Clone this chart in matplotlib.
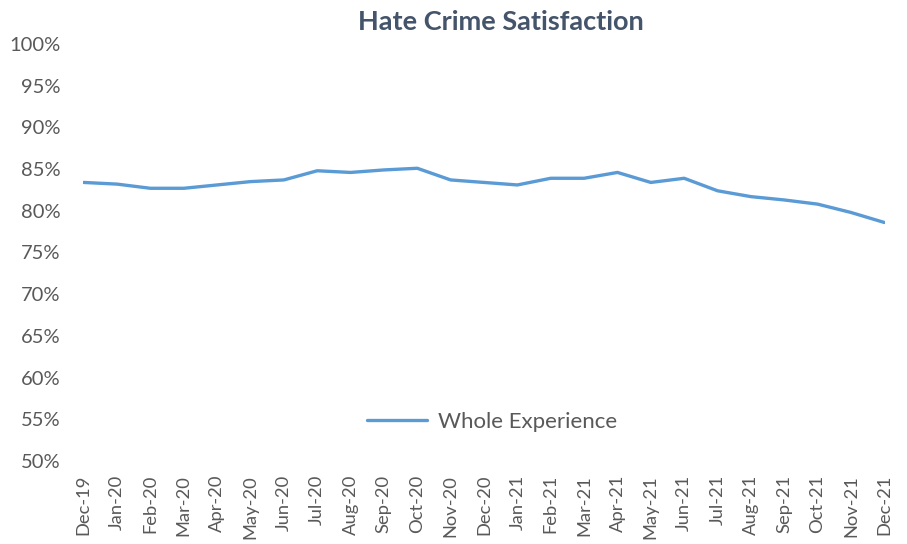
import matplotlib
matplotlib.use("Agg")
import matplotlib.pyplot as plt
from matplotlib.ticker import FuncFormatter

months = ["Dec-19", "Jan-20", "Feb-20", "Mar-20", "Apr-20", "May-20", "Jun-20",
          "Jul-20", "Aug-20", "Sep-20", "Oct-20", "Nov-20", "Dec-20", "Jan-21",
          "Feb-21", "Mar-21", "Apr-21", "May-21", "Jun-21", "Jul-21", "Aug-21",
          "Sep-21", "Oct-21", "Nov-21", "Dec-21"]
whole_experience = [83.4, 83.2, 82.7, 82.7, 83.1, 83.5, 83.7, 84.8, 84.6, 84.9,
                    85.1, 83.7, 83.4, 83.1, 83.9, 83.9, 84.6, 83.4, 83.9, 82.4,
                    81.7, 81.3, 80.8, 79.8, 78.6]
yticks = list(range(50, 101, 5))

plt.rcParams['font.family'] = ['Lato', 'DejaVu Sans']

fig = plt.figure(figsize=(9.07, 5.44), dpi=100)
ax = fig.add_axes([83/907, 1-461/544, (885-83)/907, (461-44)/544])

x = list(range(len(months)))
ax.plot(x, whole_experience, color="#5b9bd5", linewidth=2.4,
        solid_capstyle="round", label="Whole Experience")

ax.set_ylim(50, 100)
ax.set_xlim(-0.02, len(months) - 1 + 0.02)
ax.set_yticks(yticks)
ax.yaxis.set_major_formatter(FuncFormatter(lambda v, p: f"{int(v)}%"))
ax.set_xticks(x)
ax.set_xticklabels(months, rotation=90)

for s in ax.spines.values():
    s.set_visible(False)
ax.tick_params(axis="both", length=0, colors="#595959")
ax.tick_params(axis="y", pad=16, labelsize=14.5)
ax.tick_params(axis="x", pad=10, labelsize=13.2)

fig.text(0.552, 0.96, "Hate Crime Satisfaction", ha="center", va="center",
         fontsize=19.5, fontweight="bold", color="#44546a")

leg = ax.legend(loc="center", bbox_to_anchor=(492/907, 1-422/544),
                bbox_transform=fig.transFigure, frameon=False,
                fontsize=16, handlelength=2.7, handletextpad=0.5)
for t in leg.get_texts():
    t.set_color("#595959")

fig.savefig("out.png", dpi=100)
